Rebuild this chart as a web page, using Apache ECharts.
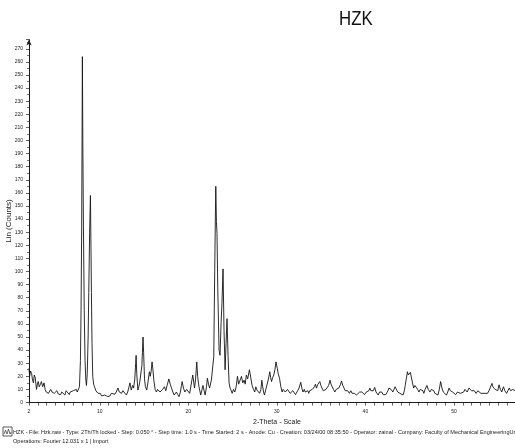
<!DOCTYPE html>
<html>
<head>
<meta charset="utf-8">
<title>HZK</title>
<script src="https://cdn.jsdelivr.net/npm/echarts@6/dist/echarts.min.js"></script>
<style>
  html, body { margin: 0; padding: 0; background: #fff; }
  #chart { width: 515px; height: 448px; }
</style>
</head>
<body>
<div id="chart"></div>
<script>
// Diffraction scan of sample HZK: [2-theta (deg), Lin counts]
const scanLowAngle = [
  [2.0,26],[2.07,20],[2.18,24],[2.3,22],[2.4,17],[2.5,15],[2.6,21],[2.7,19],[2.85,10],[2.95,14],
  [3.05,16],[3.15,12],[3.2,11],[3.3,14],[3.4,16],[3.55,12],[3.7,15],[3.82,10],[3.95,8],[4.1,9],
  [4.2,7],[4.3,7.5],[4.45,10],[4.6,8],[4.7,9.5],[4.85,7],[5.0,7.5],[5.15,9],[5.3,6.5],[5.45,8],
  [5.57,6],[5.7,8],[5.85,7],[6.05,5.7],[6.2,9],[6.4,8],[6.55,6],[6.65,8],[6.8,6.5],[7.0,9],
  [7.2,7.5],[7.35,10],[7.45,8],[7.6,9.5],[7.7,12],
  [7.81,32],[7.88,70],[7.95,134],[8.0,210],[8.03,264],[8.08,200],[8.15,134],[8.24,70],[8.33,32],
  [8.42,17],[8.49,13],[8.58,22],[8.68,50],[8.75,84],[8.85,130],[8.94,158],[9.0,120],[9.05,84],
  [9.12,45],[9.2,20],[9.3,14],[9.4,12]
];

const scanMidAngle = [
  [9.55,9],[9.7,8],[9.8,7],[9.95,6],[10.05,7],[10.2,5],[10.35,6],[10.55,5.7],[10.7,5],[10.9,4.5],
  [11.05,6],[11.15,5],[11.3,7],[11.5,6],[11.7,6.3],[11.85,8],[12.05,11],[12.2,8],[12.3,9],[12.45,7],
  [12.6,9],[12.8,8],[13.0,5.7],[13.15,8],[13.3,12],[13.4,15],[13.55,9.5],[13.7,13],[13.82,11],[13.95,18],
  [14.05,30],[14.1,36],[14.17,22],[14.3,9.5],[14.4,12],[14.5,15],[14.62,14],[14.75,28],[14.88,50],[14.95,38],
  [15.05,18],[15.15,12],[15.3,9.5],[15.45,16],[15.6,23.5],[15.7,20],[15.8,24],[15.9,31],[16.0,25],[16.1,17],
  [16.25,10],[16.4,8],[16.52,10],[16.65,11],[16.8,8],[16.95,7],[17.1,10],[17.3,12],[17.45,9],[17.6,13],
  [17.8,18],[17.95,14],[18.1,11],[18.25,8],[18.4,5.7],[18.52,7],[18.65,8],[18.8,6],[18.95,4.4],[19.1,8],
  [19.22,13],[19.3,16],[19.45,11],[19.6,8],[19.8,10],[20.0,9.5],[20.15,7],[20.3,5.7],[20.5,21],[20.7,11],
  [20.82,18],[20.95,31],[21.05,20],[21.2,12],[21.4,5.7],[21.55,10],[21.65,13],[21.78,9],[21.9,5.7],[22.05,12],
  [22.15,18.5],[22.28,14],[22.4,11],[22.6,17],[22.8,18.5],
  [22.87,35],[22.98,101],[23.05,140],[23.1,165],[23.17,138],[23.24,129],[23.32,88],[23.47,40],[23.58,36],
  [23.7,61],[23.8,76],[23.92,102],[24.03,55],[24.15,25],[24.26,45],[24.37,64],[24.49,35],[24.6,15],[24.72,11]
];

const scanHighAngle = [
  [24.85,9],[24.95,7],[25.1,10],[25.25,8],[25.4,12],[25.55,20],[25.68,14],[25.8,13],[25.9,18],[26.0,20],
  [26.15,15],[26.3,17],[26.42,14],[26.55,21],[26.7,18],[26.9,25],[27.05,19],[27.2,13],[27.35,10],[27.5,8],
  [27.62,12],[27.75,9.5],[27.9,11],[28.05,7],[28.2,10],[28.3,17],[28.4,12],[28.5,8],[28.6,5.7],[28.75,10],
  [28.9,14],[29.05,18],[29.2,23.5],[29.3,19],[29.4,16],[29.52,19],[29.65,21],[29.78,25],[29.9,31],[30.05,26],
  [30.15,22],[30.3,18.5],[30.45,12],[30.6,8],[30.7,10],[30.8,11],[30.95,8],[31.1,7],[31.2,10],[31.35,9.5],
  [31.5,7],[31.65,5.7],[31.8,9],[31.95,8],[32.1,6],[32.2,7],[32.35,9],[32.5,11],[32.6,12],[32.7,15.4],
  [32.82,11],[32.95,8],[33.1,10],[33.2,8],[33.35,7],[33.5,9],[33.6,7],[33.7,9],[33.85,8],[34.0,10],
  [34.1,11],[34.25,12],[34.35,14],[34.48,11],[34.6,13.5],[34.72,12],[34.85,16],[34.97,13],[35.1,11],[35.25,9],
  [35.4,8],[35.55,10],[35.7,11],[35.85,13],[36.0,17],[36.12,14],[36.25,12],[36.4,10],[36.55,8],[36.7,10],
  [36.85,9.5],[37.0,11],[37.1,12],[37.2,14],[37.3,16.4],[37.45,13],[37.6,12],[37.72,9],[37.85,8],[38.0,9],
  [38.2,7],[38.35,9],[38.5,7],[38.6,8],[38.75,7],[38.9,6],[39.0,5.7],[39.15,7],[39.35,8],[39.5,6.5],
  [39.6,8],[39.75,7],[39.9,6]
];

const scanWideAngle = [
  [40.1,8],[40.25,7],[40.4,9],[40.5,11],[40.62,9],[40.75,7.5],[40.9,9],[41.05,11.5],[41.2,8],[41.3,7],
  [41.45,5.7],[41.6,8],[41.7,7],[41.85,8],[42.0,6],[42.15,4.5],[42.3,6],[42.4,7],[42.55,9],[42.65,11],
  [42.75,9.5],[42.9,10],[43.1,8],[43.25,9],[43.35,12],[43.5,11],[43.65,8],[43.8,9],[43.9,7],[44.05,8],
  [44.25,5.7],[44.4,9],[44.5,13],[44.62,18],[44.75,23.5],[44.85,21],[44.95,20],[45.08,23],[45.2,21.5],[45.32,15],
  [45.45,11],[45.6,13],[45.75,12],[45.9,10],[46.05,8],[46.2,10],[46.35,11.5],[46.5,9],[46.6,7],[46.75,10],
  [46.95,13],[47.1,10],[47.3,8],[47.45,10],[47.6,11],[47.72,9],[47.85,7],[48.0,8],[48.2,5.7],[48.35,10],
  [48.5,16],[48.65,11],[48.8,8],[48.95,9],[49.15,5.7],[49.3,8],[49.45,11],[49.6,9],[49.72,10],[49.85,8],
  [50.0,7],[50.2,6],[50.4,8],[50.6,8.7],[50.75,7],[50.95,7],[51.1,8],[51.25,10],[51.35,9.5],[51.5,8],
  [51.7,11],[51.85,10],[52.0,9],[52.1,8],[52.3,9],[52.5,7],[52.7,9],[52.85,8],[53.05,7],[53.2,5.7],
  [53.4,7],[53.6,8],[53.8,7],[54.0,9.5],[54.15,11],[54.3,14.6],[54.4,12],[54.5,13.5],[54.65,10],[54.8,11],
  [54.95,9],[55.1,13.5],[55.25,10],[55.4,8],[55.6,12],[55.75,9],[55.95,7],[56.1,9],[56.25,11],[56.4,9],
  [56.5,8],[56.65,10],[56.8,11],[56.9,9]
];

// Axis labels
const xTickLabels = [2, 10, 20, 30, 40, 50];
const yLabelStep = 10;

const chartTitle = 'HZK';
const xAxisTitle = '2-Theta - Scale';
const yAxisTitle = 'Lin (Counts)';
const footerLine1 = 'HZK - File: Hzk.raw - Type: 2Th/Th locked - Step: 0.050 \u00b0 - Step time: 1.0 s - Time Started: 2 s - Anode: Cu - Creation: 03/24/00 08:35:50 - Operator: zainal - Company: Faculty of Mechanical EngineeringUr';
const footerLine2 = 'Operations: Fourier 12.031 x 1 | Import';

const scan = scanLowAngle.concat(scanMidAngle, scanHighAngle, scanWideAngle);

// one minor tick per degree along 2-theta
const xMinorTicks = [];
for (let t = 2; t <= 56; t++) xMinorTicks.push(t);

const FONT = 'Liberation Sans, Arial, sans-serif';
const INK = '#1c1c1c';

const chart = echarts.init(document.getElementById('chart'), null, { renderer: 'canvas' });

chart.setOption({
  animation: false,
  backgroundColor: '#ffffff',
  grid: { left: 29, right: 0, top: 39.6, bottom: 45.5, containLabel: false, outerBoundsMode: 'none' },
  xAxis: {
    type: 'value',
    min: 2,
    max: 56.9,
    name: xAxisTitle,
    nameLocation: 'middle',
    nameGap: 16,
    nameMoveOverlap: false,
    nameTextStyle: { fontFamily: FONT, fontSize: 7, color: INK, padding: [0, 0, 0, 10] },
    axisLine: { show: true, lineStyle: { color: INK, width: 1 } },
    axisTick: { show: true, customValues: xMinorTicks, length: 3, lineStyle: { color: INK, width: 0.7 } },
    axisLabel: { customValues: xTickLabels, fontFamily: FONT, fontSize: 5, color: INK, margin: 7 },
    splitLine: { show: false }
  },
  yAxis: {
    type: 'value',
    min: 0,
    max: 277,
    interval: yLabelStep,
    name: yAxisTitle,
    nameLocation: 'middle',
    nameGap: 16,
    nameMoveOverlap: false,
    nameRotate: 90,
    nameTextStyle: { fontFamily: FONT, fontSize: 8, color: INK },
    axisLine: { show: true, symbol: ['none', 'arrow'], symbolSize: [4, 6], lineStyle: { color: INK, width: 1 } },
    axisTick: { show: true, length: 3, lineStyle: { color: INK, width: 0.7 } },
    minorTick: { show: true, splitNumber: 2, length: 2, lineStyle: { color: INK, width: 0.6 } },
    axisLabel: {
      fontFamily: FONT, fontSize: 5, color: INK, margin: 6,
      formatter: function (v) { return v % yLabelStep === 0 ? String(v) : ''; }
    },
    splitLine: { show: false }
  },
  series: [{
    type: 'line',
    data: scan,
    showSymbol: false,
    symbol: 'none',
    lineStyle: { color: '#141414', width: 0.9 },
    silent: true
  }],
  graphic: [
    {
      type: 'text', x: 339, y: 9, scaleX: 0.8,
      style: { text: chartTitle, fontFamily: FONT, fontSize: 21, fill: '#111' }
    },
    { type: 'rect', shape: { x: 3, y: 427, width: 9, height: 9 }, style: { fill: '#fff', stroke: '#333', lineWidth: 0.8 } },
    { type: 'polyline', shape: { points: [[4, 434], [5.5, 430], [7, 434], [8.5, 429], [10, 434], [11, 432]] }, style: { fill: null, stroke: '#333', lineWidth: 0.7 } },
    { type: 'text', left: 13, top: 429, style: { text: footerLine1, fontFamily: FONT, fontSize: 5.55, fill: INK } },
    { type: 'text', left: 13, top: 438, style: { text: footerLine2, fontFamily: FONT, fontSize: 5.55, fill: INK } }
  ]
});
</script>
</body>
</html>
